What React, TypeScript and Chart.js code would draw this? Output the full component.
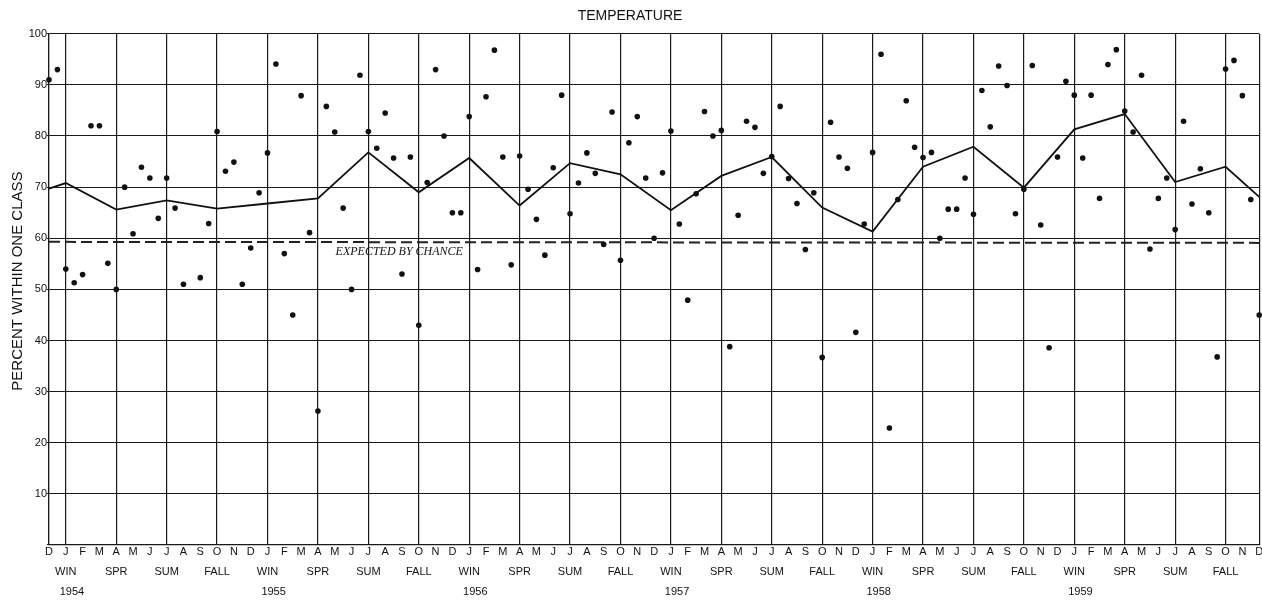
import { useEffect, useRef } from 'react';
import { Chart, registerables } from 'chart.js';

Chart.register(...registerables);

// Axis labels
const MONTH_LETTERS = ['J', 'F', 'M', 'A', 'M', 'J', 'J', 'A', 'S', 'O', 'N', 'D'];
const SEASON_NAMES = ['WIN', 'SPR', 'SUM', 'FALL'];
const YEAR_LABELS = ['1954', '1955', '1956', '1957', '1958', '1959'];

// Semi-monthly scores (percent within one class), Dec 1953 .. Dec 1959, two per month
const SEMI_MONTHLY_SCORES: (number | null)[] = [
  91, 93, 54, 51.3, 52.9, 82, 82, 55.1, 50, 70,
  60.9, 73.9, 71.8, 63.9, 71.8, 65.9, 51, null, 52.3, 62.9,
  80.9, 73.1, 74.9, 51, 58.1, 68.9, 76.7, 94.1, 57, 45,
  87.9, 61.1, 26.2, 85.8, 80.8, 65.9, 50, 91.9, 80.9, 77.6,
  84.5, 75.7, 53, 75.9, 43, 70.9, 93, 80, 65, 65,
  83.8, 53.9, 87.7, 96.8, 75.9, 54.8, 76.1, 69.6, 63.7, 56.7,
  73.8, 88, 64.8, 70.8, 76.7, 72.7, 58.8, 84.7, 55.7, 78.7,
  83.8, 71.8, 60, 72.8, 81, 62.8, 47.9, 68.7, 84.8, 80,
  81.1, 38.8, 64.5, 82.9, 81.7, 72.7, 76, 85.8, 71.7, 66.8,
  57.8, 68.9, 36.7, 82.7, 75.9, 73.7, 41.6, 62.8, 76.8, 96,
  22.9, 67.6, 86.9, 77.8, 75.8, 76.8, 60, 65.7, 65.7, 71.8,
  64.7, 88.9, 81.8, 93.7, 89.9, 64.8, 69.6, 93.8, 62.6, 38.6,
  75.9, 90.7, 88, 75.7, 88, 67.8, 94, 96.9, 84.9, 80.8,
  91.9, 57.9, 67.8, 71.8, 61.7, 82.9, 66.7, 73.6, 65, 36.8,
  93.1, 94.8, 87.9, 67.6, 45,
];

// Seasonal averages, plotted at the centre month of each season (Jan, Apr, Jul, Oct ...)
const SEASONAL_SCORES = [
  70.8, 65.6, 67.4, 65.8,
  66.8, 67.8, 76.8, 69.0,
  75.7, 66.4, 74.7, 72.5,
  65.5, 72.2, 75.9, 66.0,
  61.3, 74.0, 77.9, 69.9,
  81.3, 84.3, 71.0, 74.0,
];
const SEASONAL_EDGE_START = 69.7;
const SEASONAL_EDGE_END = 68.1;

// Expected by chance level (left edge, right edge)
const CHANCE_LEVEL = [59.3, 59.1];

const TOTAL_MONTHS = 72; // Dec 1953 -> Dec 1959

const FONT = "'Liberation Sans', Arial, sans-serif";

function monthOf(m: number) {
  return (m + 11) % 12; // 0 = Jan
}

export default function App() {
  const canvasRef = useRef<HTMLCanvasElement | null>(null);

  useEffect(() => {
    const canvas = canvasRef.current;
    if (!canvas) return;

    const dots = SEMI_MONTHLY_SCORES.map((v, i) => ({ x: i * 0.5, y: v }));
    const seasonal = [
      { x: 0, y: SEASONAL_EDGE_START },
      ...SEASONAL_SCORES.map((v, i) => ({ x: 1 + i * 3, y: v })),
      { x: TOTAL_MONTHS, y: SEASONAL_EDGE_END },
    ];
    const chance = [
      { x: 0, y: CHANCE_LEVEL[0] },
      { x: TOTAL_MONTHS, y: CHANCE_LEVEL[1] },
    ];

    const chanceLabel = {
      id: 'chanceLabel',
      afterDatasetsDraw(chart: any) {
        const { ctx, scales } = chart;
        ctx.save();
        ctx.font = "italic 12px 'Liberation Serif', 'Times New Roman', serif";
        ctx.fillStyle = '#111';
        ctx.textAlign = 'left';
        ctx.textBaseline = 'middle';
        ctx.fillText('EXPECTED BY CHANCE', scales.x.getPixelForValue(17.05), scales.y.getPixelForValue(57.3));
        ctx.restore();
      },
    };

    const chart = new Chart(canvas, {
      type: 'scatter',
      data: {
        datasets: [
          {
            label: 'Semi-monthly',
            data: dots,
            showLine: false,
            pointRadius: 2.8,
            pointHoverRadius: 2.8,
            pointBackgroundColor: '#111',
            pointBorderColor: '#111',
            pointBorderWidth: 0,
            clip: 6,
          } as any,
          {
            label: 'Seasonal',
            data: seasonal,
            showLine: true,
            borderColor: '#111',
            borderWidth: 1.8,
            pointRadius: 0,
            tension: 0,
            clip: 6,
          } as any,
          {
            label: 'Expected by chance',
            data: chance,
            showLine: true,
            borderColor: '#222',
            borderWidth: 2,
            borderDash: [11, 5],
            pointRadius: 0,
          } as any,
        ],
      },
      options: {
        animation: false,
        responsive: true,
        maintainAspectRatio: false,
        layout: { padding: { left: 0, right: 2, top: 0, bottom: 0 } },
        plugins: {
          legend: { display: false },
          tooltip: { enabled: false },
          title: {
            display: true,
            text: 'TEMPERATURE',
            color: '#111',
            font: { family: FONT, size: 14, weight: 'normal' as any },
            padding: { top: 8, bottom: 9 },
          },
        },
        scales: {
          x: {
            type: 'linear',
            min: 0,
            max: TOTAL_MONTHS,
            afterFit(scale: any) {
              scale.height = 56;
              scale.paddingRight = 0;
              scale.paddingLeft = 0;
            },
            afterBuildTicks(scale: any) {
              const t = [];
              for (let m = 0; m <= TOTAL_MONTHS; m++) t.push({ value: m });
              scale.ticks = t;
            },
            ticks: {
              autoSkip: false,
              maxRotation: 0,
              minRotation: 0,
              padding: -3,
              color: '#111',
              font: { family: FONT, size: 11, lineHeight: '20px' as any },
              callback(value: any) {
                const m = Math.round(Number(value));
                const cm = monthOf(m);
                const season = cm % 3 === 0 ? SEASON_NAMES[cm / 3] : '';
                const year = cm === 0 ? '    ' + YEAR_LABELS[Math.floor((m - 1) / 12)] : '';
                return [MONTH_LETTERS[cm], season, year];
              },
            },
            grid: {
              drawTicks: false,
              lineWidth: 1.2,
              color(ctx: any) {
                const v = Math.round(ctx.tick ? ctx.tick.value : -1);
                if (v === 0 || v === TOTAL_MONTHS || v % 3 === 1) return '#1a1a1a';
                return 'rgba(0,0,0,0)';
              },
            },
            border: { display: true, color: '#1a1a1a', width: 1.2 },
          },
          y: {
            min: 0,
            max: 100,
            afterFit(scale: any) {
              scale.width = 49;
            },
            ticks: {
              stepSize: 10,
              padding: 0,
              color: '#111',
              font: { family: FONT, size: 11 },
              callback(value: any) {
                return Number(value) === 0 ? '' : String(value);
              },
            },
            grid: {
              color: '#1a1a1a',
              lineWidth: 1.1,
              tickLength: 2,
            },
            border: { display: true, color: '#1a1a1a', width: 1.2 },
            title: {
              display: true,
              text: '    PERCENT WITHIN ONE CLASS',
              color: '#111',
              font: { family: FONT, size: 15, weight: 'normal' as any },
              padding: { top: 9, bottom: 0 },
            },
          },
        },
      },
      plugins: [chanceLabel],
    });

    return () => chart.destroy();
  }, []);

  return (
    <div style={{ position: 'absolute', left: 0, top: 0, width: 1262, height: 601, background: '#fff' }}>
      <canvas ref={canvasRef} />
    </div>
  );
}
